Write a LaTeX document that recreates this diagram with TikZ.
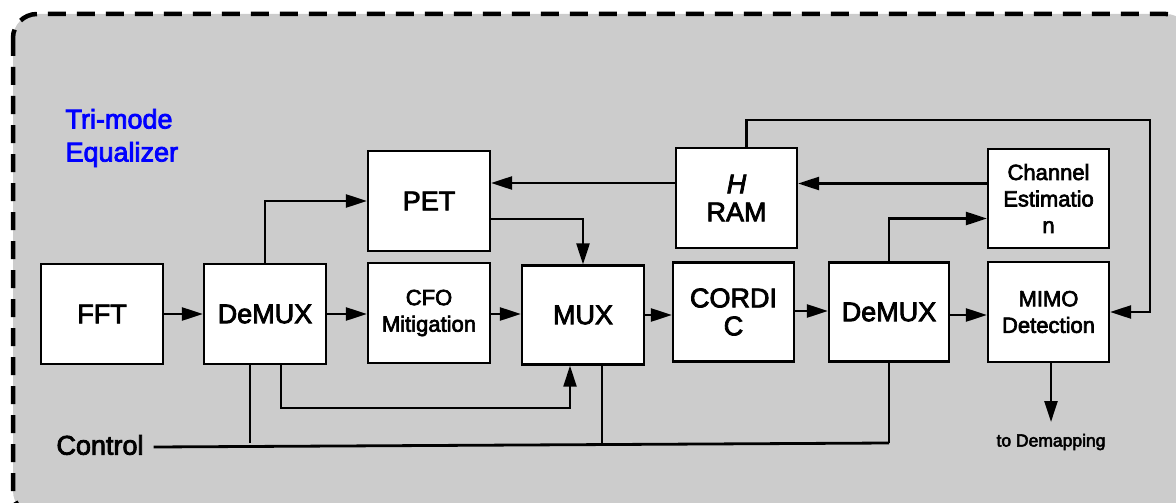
\documentclass[tikz,border=0pt]{standalone}
\usepackage{fontspec}
\setmainfont{Liberation Sans}[FakeBold=3]
\usetikzlibrary{arrows.meta}
\definecolor{bggrey}{HTML}{CCCCCC}
\tikzset{
  blk/.style={draw=black, fill=white, line width=2.2pt, minimum width=#1, minimum height=100pt, inner sep=0pt, align=center, font=\fontsize{27}{28}\selectfont},
  blk/.default=122pt,
  smalltxt/.style={font=\fontsize{22}{26.5}\selectfont},
  conn/.style={line width=2.4pt, -{Triangle[length=21pt,width=13pt]}},
  thin/.style={line width=1.3pt}
}
\begin{document}
\begin{tikzpicture}[x=1pt,y=-1pt]
\useasboundingbox (0,0) rectangle (1176,503);
\clip (0,0) rectangle (1176,503);
\draw[fill=bggrey, line width=4.5pt, dash pattern=on 18pt off 11pt, rounded corners=24pt] (13,14) rectangle (1190,515);

\node[text=blue, align=left, anchor=west, font=\fontsize{27}{33}\selectfont] (title) at (62,138) {Tri-mode\\Equalizer};

\node[blk] (fft) at (102,314) {FFT};
\node[blk] (dm1) at (265,314) {DeMUX};
\node[blk] (pet) at (429,201) {PET};
\node[blk, smalltxt] (cfo) at (429,313) {CFO\\Mitigation};
\node[blk, minimum height=99pt] (mux) at (583,315) {MUX};
\node[blk=121pt, minimum height=99pt] (cordic) at (733.5,312) {CORDI\\C};
\node[blk=120pt, minimum height=99pt] (dm2) at (889,312) {DeMUX};
\node[blk=121pt] (hram) at (736.5,198) {\textit{H}\\RAM};
\node[blk=121pt, minimum height=99pt, smalltxt] (ce) at (1048.5,198.5) {Channel\\Estimatio\\n};
\node[blk=121pt, smalltxt] (mimo) at (1048.5,312) {MIMO\\Detection};

\node[font=\fontsize{27}{28}\selectfont, inner sep=0pt] (control) at (100,445) {Control};
\node[font=\fontsize{17.5}{20}\selectfont, inner sep=0pt] (demap) at (1051,442) {to Demapping};

\coordinate (dem) at (1051,422);
\coordinate (fb) at (1150,120);
\coordinate (c1) at (250,443);
\coordinate (c2) at (602,443);
\coordinate (c3) at (889,443);
\coordinate (loopc) at (570,408);

% main chain
\draw[conn] (fft.east) -- (fft.east -| dm1.west);
\draw[conn] (dm1.east) -- (dm1.east -| cfo.west);
\draw[conn] ([yshift=-1pt]cfo.east) -- ([yshift=-1pt]cfo.east -| mux.west);
\draw[conn] (mux.east) -- (mux.east -| cordic.west);
\draw[conn] ([yshift=1pt]cordic.east) -- ([yshift=1pt]cordic.east -| dm2.west);
\draw[conn] ([yshift=-3pt]dm2.east) -- ([yshift=-3pt]dm2.east -| mimo.west);

% upper paths
\draw[conn] (dm1.north) |- (pet.west);
\draw[conn] ([yshift=-18pt]pet.east) -| (mux.north);
\draw[conn] ([yshift=15pt]ce.west) -- ([yshift=15pt]ce.west -| hram.east);
\draw[conn] ([yshift=15pt]hram.west) -- ([yshift=15pt]hram.west -| pet.east);
\draw[conn] (dm2.north) |- ([yshift=-20pt]ce.west);
\draw[conn] ([xshift=10pt]hram.north) |- (fb) |- (mimo.east);

% output
\draw[conn] (mimo.south -| dem) -- (dem);

% control
\draw[line width=2.8pt] (control.east) ++(10pt,-2pt) -- (c3);
\draw[thin] (c1) -- (c1 |- dm1.south);
\draw[thin] (c2) -- (c2 |- mux.south);
\draw[thin] (c3) -- (c3 |- dm2.south);
\draw[conn, line width=2pt] ([xshift=16pt]dm1.south) |- (loopc) -- (loopc |- mux.south);
\end{tikzpicture}
\end{document}
